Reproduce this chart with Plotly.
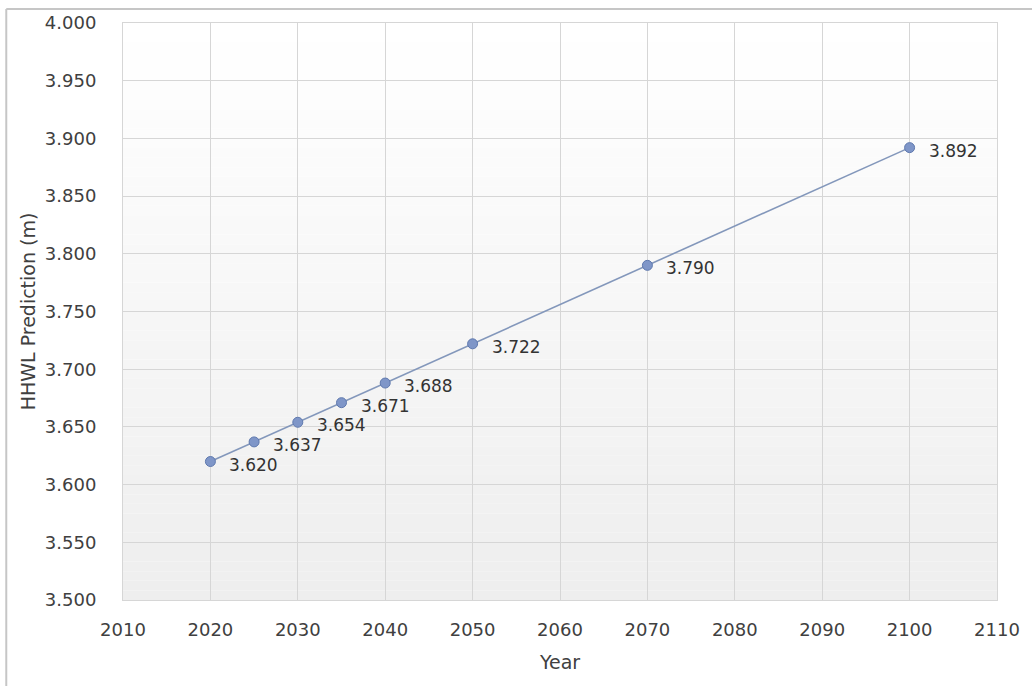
import plotly.graph_objects as go

# HHWL prediction per year
years = [2020, 2025, 2030, 2035, 2040, 2050, 2070, 2100]
hhwl = [3.620, 3.637, 3.654, 3.671, 3.688, 3.722, 3.790, 3.892]
labels = [f"{v:.3f}" for v in hhwl]

x_ticks = list(range(2010, 2111, 10))
y_ticks = [3.5 + 0.05 * i for i in range(11)]
y_ticktext = [f"{v:.3f}" for v in y_ticks]

FONT = "DejaVu Sans"
TEXT = "#404040"
GRID = "#d6d6d6"

fig = go.Figure()

fig.add_trace(go.Scatter(
    x=years, y=hhwl,
    mode="lines+markers",
    line=dict(color="#8397bb", width=1.6),
    marker=dict(size=10, color="#7f96c8", line=dict(color="#5f79ae", width=1)),
    hoverinfo="x+y",
    showlegend=False,
))

# value labels to the right of each point
for x, y, t in zip(years, hhwl, labels):
    fig.add_annotation(
        x=x, y=y, text=t, showarrow=False,
        xanchor="left", yanchor="middle", xshift=17, yshift=-3,
        font=dict(family=FONT, size=17, color="#333333"),
    )

# soft vertical gradient in the plot area: white at top to light grey at bottom
n_bands = 60
shapes = []
for i in range(n_bands):
    f = i / (n_bands - 1)
    c = round(255 - (255 - 238) * (1 - f))
    shapes.append(dict(
        type="rect", xref="x domain", yref="y domain",
        x0=0, x1=1, y0=i / n_bands, y1=(i + 1) / n_bands,
        fillcolor=f"rgb({c},{c},{c})", line=dict(width=0), layer="below",
    ))

# outer chart frame
W, H = 1032, 686
ml, mr, mt, mb = 123, 33, 20, 86
pw, ph = W - ml - mr, H - mt - mb
fx = lambda px: (px - ml) / pw
fy = lambda py: 1 - (py - mt) / ph
shapes.append(dict(type="line", xref="paper", yref="paper",
                   x0=fx(6), x1=fx(6), y0=fy(6), y1=fy(H + 5),
                   line=dict(color="#c6c6c6", width=2)))
shapes.append(dict(type="line", xref="paper", yref="paper",
                   x0=fx(6), x1=fx(W + 5), y0=fy(6), y1=fy(6),
                   line=dict(color="#c6c6c6", width=2)))

fig.update_layout(
    width=W, height=H,
    margin=dict(l=ml, r=mr, t=mt, b=mb),
    paper_bgcolor="white",
    plot_bgcolor="white",
    font=dict(family=FONT, color=TEXT),
    shapes=shapes,
)

fig.update_xaxes(
    range=[2010, 2110],
    tickvals=x_ticks,
    ticktext=[str(v) for v in x_ticks],
    tickfont=dict(family=FONT, size=18, color=TEXT),
    showgrid=True, gridcolor=GRID, gridwidth=1,
    showline=True, linecolor=GRID, linewidth=1, mirror=True,
    zeroline=False,
    ticks="outside", ticklen=13, tickcolor="rgba(0,0,0,0)",
    title=dict(text="Year", font=dict(family=FONT, size=19, color=TEXT), standoff=17),
)

fig.update_yaxes(
    range=[3.5, 4.0],
    tickvals=y_ticks,
    ticktext=y_ticktext,
    tickfont=dict(family=FONT, size=18, color=TEXT),
    showgrid=True, gridcolor=GRID, gridwidth=1,
    showline=True, linecolor=GRID, linewidth=1, mirror=True,
    zeroline=False,
    ticks="outside", ticklen=22, tickcolor="rgba(0,0,0,0)",
    title=dict(text="HHWL Prediction (m)", font=dict(family=FONT, size=19, color=TEXT), standoff=4),
)

fig.write_html("out.html")
